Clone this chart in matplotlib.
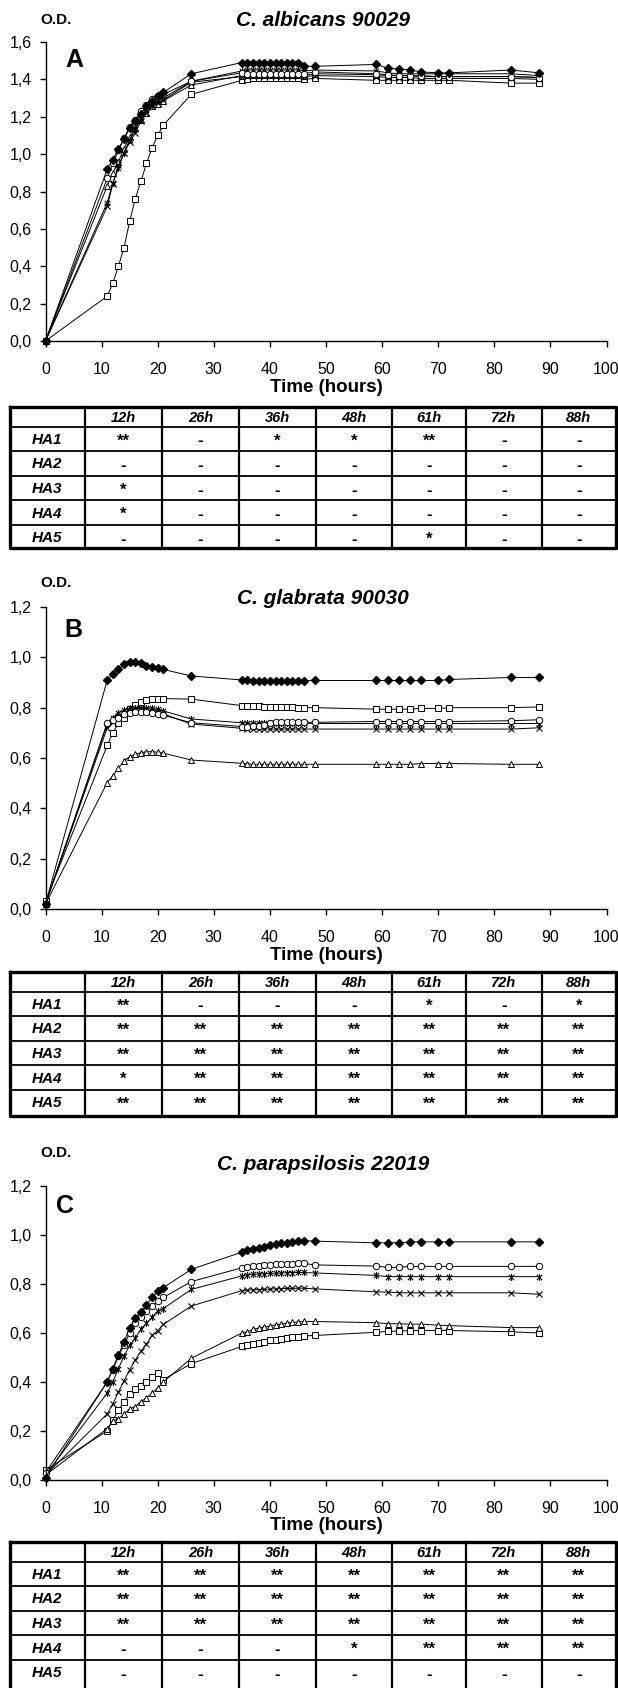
import matplotlib.pyplot as plt
from matplotlib.path import Path
from matplotlib.ticker import FuncFormatter, MultipleLocator

plt.rcParams['font.family'] = ['Liberation Sans', 'DejaVu Sans']

# sampling times (hours), shared by all three strains
hours = [0, 11, 12, 13, 14, 15, 16, 17, 18, 19, 20, 21, 26,
         35, 36, 37, 38, 39, 40, 41, 42, 43, 44, 45, 46, 48,
         59, 61, 63, 65, 67, 70, 72, 83, 88]

# ---- A: C. albicans 90029 ----
a_diamond = [0.0,
             0.92, 0.97, 1.03, 1.08, 1.14, 1.175, 1.215, 1.255, 1.285, 1.31, 1.33,
             1.43,
             1.49, 1.49, 1.485, 1.485, 1.485, 1.485, 1.485, 1.485, 1.485, 1.485, 1.485, 1.47,
             1.47,
             1.48, 1.46, 1.455, 1.45, 1.44, 1.435, 1.435, 1.45, 1.435]
a_square = [0.0,
            0.24, 0.31, 0.40, 0.50, 0.64, 0.76, 0.855, 0.95, 1.035, 1.10, 1.155,
            1.32,
            1.395, 1.40, 1.405, 1.405, 1.405, 1.405, 1.405, 1.405, 1.405, 1.405, 1.405, 1.40,
            1.405,
            1.395, 1.395, 1.395, 1.395, 1.395, 1.395, 1.395, 1.38, 1.38]
a_triangle = [0.0,
              0.83, 0.90, 0.96, 1.03, 1.09, 1.14, 1.185, 1.22, 1.255, 1.27, 1.285,
              1.37,
              1.42, 1.425, 1.425, 1.425, 1.425, 1.425, 1.425, 1.425, 1.425, 1.425, 1.425, 1.42,
              1.43,
              1.425, 1.42, 1.42, 1.42, 1.415, 1.415, 1.415, 1.415, 1.41]
a_cross = [0.0,
           0.72, 0.84, 0.94, 1.005, 1.065, 1.115, 1.175, 1.22, 1.255, 1.275, 1.29,
           1.385,
           1.415, 1.42, 1.42, 1.42, 1.42, 1.42, 1.42, 1.42, 1.42, 1.42, 1.42, 1.415,
           1.42,
           1.415, 1.41, 1.41, 1.41, 1.405, 1.405, 1.405, 1.405, 1.40]
a_star = [0.0,
          0.74, 0.845, 0.925, 1.005, 1.075, 1.135, 1.19, 1.235, 1.265, 1.29, 1.30,
          1.39,
          1.445, 1.45, 1.45, 1.45, 1.45, 1.45, 1.45, 1.45, 1.45, 1.45, 1.45, 1.445,
          1.45,
          1.445, 1.435, 1.43, 1.43, 1.43, 1.43, 1.43, 1.43, 1.42]
a_circle = [0.0,
            0.87, 0.95, 1.02, 1.085, 1.145, 1.185, 1.23, 1.265, 1.295, 1.31, 1.32,
            1.39,
            1.435, 1.43, 1.43, 1.43, 1.43, 1.43, 1.43, 1.43, 1.43, 1.43, 1.43, 1.43,
            1.44,
            1.43, 1.425, 1.42, 1.42, 1.42, 1.415, 1.415, 1.415, 1.41]

# ---- B: C. glabrata 90030 ----
b_diamond = [0.02,
             0.91, 0.932, 0.952, 0.973, 0.98, 0.981, 0.976, 0.967, 0.963, 0.959, 0.952,
             0.926,
             0.91, 0.908, 0.907, 0.907, 0.907, 0.907, 0.907, 0.907, 0.907, 0.907, 0.907, 0.907,
             0.908,
             0.908, 0.908, 0.908, 0.908, 0.908, 0.908, 0.912, 0.92, 0.92]
b_square = [0.03,
            0.65, 0.70, 0.738, 0.76, 0.795, 0.81, 0.824, 0.83, 0.834, 0.836, 0.836,
            0.834,
            0.808, 0.808, 0.808, 0.808, 0.804, 0.804, 0.804, 0.804, 0.804, 0.804, 0.80, 0.80,
            0.80,
            0.794, 0.794, 0.794, 0.794, 0.797, 0.797, 0.80, 0.80, 0.803]
b_triangle = [0.02,
              0.502, 0.53, 0.559, 0.589, 0.605, 0.615, 0.621, 0.625, 0.625, 0.623, 0.619,
              0.592,
              0.579, 0.577, 0.575, 0.575, 0.575, 0.575, 0.575, 0.575, 0.575, 0.575, 0.575, 0.575,
              0.575,
              0.575, 0.575, 0.575, 0.575, 0.578, 0.578, 0.578, 0.575, 0.575]
b_cross = [0.02,
           0.72, 0.745, 0.765, 0.78, 0.785, 0.79, 0.79, 0.79, 0.787, 0.783, 0.775,
           0.735,
           0.718, 0.716, 0.715, 0.715, 0.715, 0.715, 0.715, 0.715, 0.715, 0.715, 0.715, 0.715,
           0.715,
           0.715, 0.715, 0.715, 0.715, 0.715, 0.715, 0.715, 0.715, 0.72]
b_star = [0.02,
          0.735, 0.76, 0.78, 0.79, 0.797, 0.80, 0.80, 0.80, 0.797, 0.793, 0.787,
          0.755,
          0.74, 0.738, 0.738, 0.738, 0.738, 0.738, 0.738, 0.738, 0.738, 0.738, 0.738, 0.738,
          0.737,
          0.737, 0.737, 0.737, 0.737, 0.737, 0.737, 0.737, 0.737, 0.737]
b_circle = [0.02,
            0.74, 0.75, 0.76, 0.775, 0.78, 0.782, 0.782, 0.782, 0.78, 0.776, 0.77,
            0.74,
            0.725, 0.725, 0.726, 0.727, 0.73, 0.74, 0.742, 0.742, 0.742, 0.742, 0.742, 0.742,
            0.742,
            0.745, 0.745, 0.745, 0.745, 0.745, 0.745, 0.745, 0.748, 0.752]

# ---- C: C. parapsilosis 22019 ----
c_diamond = [0.01,
             0.40, 0.455, 0.51, 0.565, 0.62, 0.66, 0.687, 0.714, 0.745, 0.77, 0.785,
             0.86,
             0.93, 0.937, 0.943, 0.948, 0.952, 0.958, 0.962, 0.966, 0.969, 0.971, 0.974, 0.977,
             0.975,
             0.968, 0.968, 0.968, 0.972, 0.972, 0.972, 0.972, 0.972, 0.972]
c_square = [0.04,
            0.20, 0.245, 0.285, 0.32, 0.35, 0.37, 0.385, 0.40, 0.42, 0.435, 0.41,
            0.475,
            0.545, 0.55, 0.555, 0.56, 0.565, 0.57, 0.572, 0.575, 0.58, 0.582, 0.585, 0.588,
            0.59,
            0.603, 0.607, 0.608, 0.61, 0.61, 0.61, 0.61, 0.605, 0.60]
c_triangle = [0.02,
              0.21, 0.24, 0.25, 0.27, 0.29, 0.30, 0.32, 0.335, 0.355, 0.375, 0.40,
              0.497,
              0.60, 0.605, 0.615, 0.62, 0.625, 0.628, 0.633, 0.637, 0.64, 0.643, 0.645, 0.647,
              0.647,
              0.642, 0.638, 0.638, 0.636, 0.636, 0.632, 0.63, 0.622, 0.622]
c_cross = [0.02,
           0.27, 0.31, 0.36, 0.405, 0.45, 0.49, 0.525, 0.555, 0.59, 0.61, 0.635,
           0.71,
           0.773, 0.775, 0.776, 0.777, 0.778, 0.779, 0.78, 0.781, 0.782, 0.782, 0.783, 0.783,
           0.78,
           0.768, 0.767, 0.764, 0.764, 0.764, 0.764, 0.764, 0.764, 0.758]
c_star = [0.02,
          0.355, 0.40, 0.455, 0.505, 0.55, 0.58, 0.615, 0.64, 0.665, 0.69, 0.70,
          0.778,
          0.833, 0.837, 0.839, 0.841, 0.842, 0.843, 0.844, 0.845, 0.846, 0.846, 0.847, 0.847,
          0.845,
          0.835, 0.83, 0.83, 0.83, 0.83, 0.83, 0.83, 0.83, 0.83]
c_circle = [0.03,
            0.40, 0.45, 0.505, 0.55, 0.60, 0.64, 0.665, 0.69, 0.71, 0.73, 0.745,
            0.81,
            0.866, 0.87, 0.872, 0.875, 0.877, 0.879, 0.88, 0.88, 0.881, 0.883, 0.884, 0.884,
            0.878,
            0.873, 0.868, 0.868, 0.872, 0.872, 0.872, 0.872, 0.872, 0.872]

# significance tables
table_cols = ["12h", "26h", "36h", "48h", "61h", "72h", "88h"]
table_rows = ["HA1", "HA2", "HA3", "HA4", "HA5"]
sig_a = [["**", "-", "*", "*", "**", "-", "-"],
         ["-", "-", "-", "-", "-", "-", "-"],
         ["*", "-", "-", "-", "-", "-", "-"],
         ["*", "-", "-", "-", "-", "-", "-"],
         ["-", "-", "-", "-", "*", "-", "-"]]
sig_b = [["**", "-", "-", "-", "*", "-", "*"],
         ["**", "**", "**", "**", "**", "**", "**"],
         ["**", "**", "**", "**", "**", "**", "**"],
         ["*", "**", "**", "**", "**", "**", "**"],
         ["**", "**", "**", "**", "**", "**", "**"]]
sig_c = [["**", "**", "**", "**", "**", "**", "**"],
         ["**", "**", "**", "**", "**", "**", "**"],
         ["**", "**", "**", "**", "**", "**", "**"],
         ["-", "-", "-", "*", "**", "**", "**"],
         ["-", "-", "-", "-", "-", "-", "-"]]

# ---------------------------------------------------------------
W, H = 618, 1688
fig = plt.figure(figsize=(W / 100, H / 100), dpi=100)

page = fig.add_axes([0, 0, 1, 1])
page.set_xlim(0, W)
page.set_ylim(H, 0)
page.axis("off")

star_path = Path([(-1, -1), (1, 1), (-1, 1), (1, -1), (0, -1.3), (0, 1.3)],
                 [Path.MOVETO, Path.LINETO, Path.MOVETO, Path.LINETO, Path.MOVETO, Path.LINETO])

styles = {
    "diamond": dict(marker="D", ms=4.2, mfc="black", mec="black"),
    "square": dict(marker="s", ms=4.0, mfc="white", mec="black", mew=0.7),
    "triangle": dict(marker="^", ms=4.6, mfc="white", mec="black", mew=0.7),
    "cross": dict(marker="x", ms=4.6, mec="black", mew=0.8),
    "star": dict(marker=star_path, ms=5.0, mec="black", mew=0.8),
    "circle": dict(marker="o", ms=4.6, mfc="white", mec="black", mew=0.7),
}

# pixel positions (from top of page) of each panel's pieces
panels = [
    dict(letter="A", title="C. albicans 90029", top=42, bottom=341, ymax=1.6,
         od_y=20.5, title_y=20, letter_xy=(74, 60),
         series={"square": a_square, "triangle": a_triangle, "cross": a_cross,
                 "star": a_star, "circle": a_circle, "diamond": a_diamond},
         sig=sig_a, table_top=407, table_bottom=548),
    dict(letter="B", title="C. glabrata 90030", top=607, bottom=909, ymax=1.2,
         od_y=583, title_y=598, letter_xy=(73, 630),
         series={"square": b_square, "triangle": b_triangle, "cross": b_cross,
                 "star": b_star, "circle": b_circle, "diamond": b_diamond},
         sig=sig_b, table_top=972, table_bottom=1116),
    dict(letter="C", title="C. parapsilosis 22019", top=1186, bottom=1480, ymax=1.2,
         od_y=1153, title_y=1165, letter_xy=(65, 1206),
         series={"square": c_square, "triangle": c_triangle, "cross": c_cross,
                 "star": c_star, "circle": c_circle, "diamond": c_diamond},
         sig=sig_c, table_top=1542, table_bottom=1693),
]

x_left, x_right = 45.5, 606.5
col_edges = [10, 85, 162, 239, 316, 392, 466, 541.5, 616]
head_h, row_h = 19.5, 24.6


def comma(v, pos):
    return f"{v:.1f}".replace(".", ",")


for p in panels:
    ax = fig.add_axes([x_left / W, 1 - p["bottom"] / H,
                       (x_right - x_left) / W, (p["bottom"] - p["top"]) / H])
    for name, vals in p["series"].items():
        ax.plot(hours, vals, color="black", lw=0.7, clip_on=False, **styles[name])
    ax.set_xlim(0, 100)
    ax.set_ylim(0, p["ymax"])
    ax.xaxis.set_major_locator(MultipleLocator(10))
    ax.yaxis.set_major_locator(MultipleLocator(0.2))
    ax.yaxis.set_major_formatter(FuncFormatter(comma))
    ax.spines["top"].set_visible(False)
    ax.spines["right"].set_visible(False)
    ax.spines["left"].set_linewidth(1.0)
    ax.spines["bottom"].set_linewidth(1.0)
    ax.tick_params(direction="out", length=4, width=1.0, labelsize=11.5)
    ax.tick_params(axis="y", pad=6)
    ax.tick_params(axis="x", pad=11)
    ax.patch.set_alpha(0)

    # texts around the chart
    page.text(56, p["od_y"], "O.D.", fontsize=11, fontweight="bold", ha="center", va="center")
    page.text(323, p["title_y"], p["title"], fontsize=15, fontweight="bold",
              style="italic", ha="center", va="center")
    page.text(p["letter_xy"][0], p["letter_xy"][1], p["letter"], fontsize=18,
              fontweight="bold", ha="center", va="center")
    page.text(326, p["bottom"] + 46, "Time (hours)", fontsize=13.5, fontweight="bold",
              ha="center", va="center")

    # significance table
    t0, t1 = p["table_top"], p["table_bottom"]
    lines_y = [t0 + head_h + i * row_h for i in range(5)]
    for y in lines_y:
        page.plot([col_edges[0], col_edges[-1]], [y, y], color="black", lw=1.3)
    for x in col_edges[1:-1]:
        page.plot([x, x], [t0, t1], color="black", lw=1.6)
    page.plot([col_edges[0], col_edges[-1], col_edges[-1], col_edges[0], col_edges[0]],
              [t0, t0, t1, t1, t0], color="black", lw=2.4)
    for j, lab in enumerate(table_cols):
        xc = (col_edges[j + 1] + col_edges[j + 2]) / 2
        page.text(xc, t0 + head_h / 2 + 1, lab, fontsize=10.5, fontweight="bold",
                  style="italic", ha="center", va="center")
    for i, lab in enumerate(table_rows):
        yc = t0 + head_h + (i + 0.5) * row_h
        page.text(47, yc + 1, lab, fontsize=11, fontweight="bold", style="italic",
                  ha="center", va="center")
        for j, mark in enumerate(p["sig"][i]):
            xc = (col_edges[j + 1] + col_edges[j + 2]) / 2
            if mark == "-":
                page.text(xc, yc + 2, "-", fontsize=12, fontweight="bold",
                          ha="center", va="center")
            else:
                page.text(xc, yc + 2, mark, fontsize=12, fontweight="bold",
                          ha="center", va="center")

fig.savefig("out.png", dpi=100)
